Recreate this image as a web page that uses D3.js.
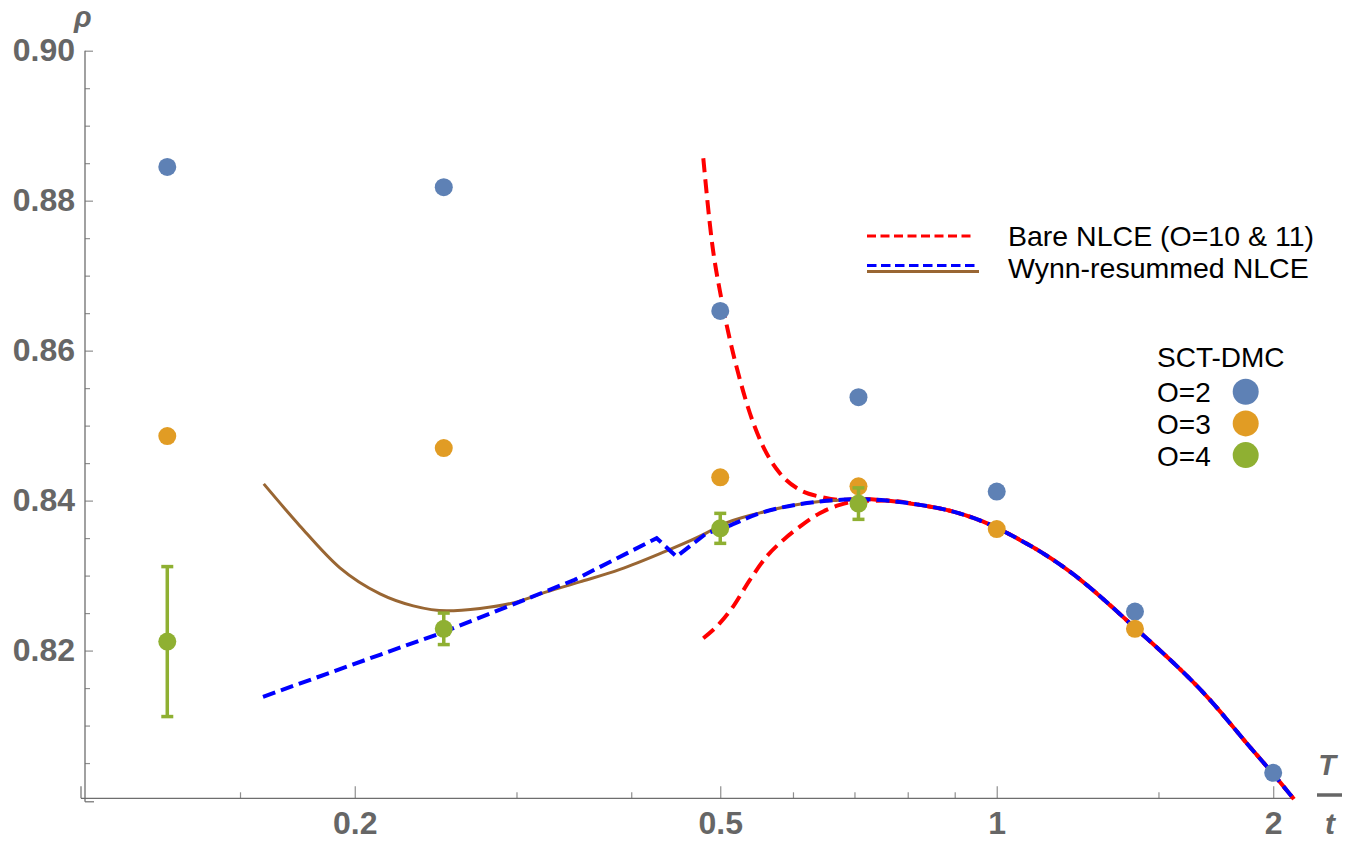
<!DOCTYPE html>
<html><head><meta charset="utf-8">
<script src="https://cdn.jsdelivr.net/npm/d3@7"></script>
<style>
html,body{margin:0;padding:0;background:#fff;}
svg{display:block;font-family:"Liberation Sans",Arial,sans-serif;}
</style></head><body>
<svg id="chart" width="1347" height="841"></svg>
<script>
// ---------------- data ----------------
const T_POINTS = [0.125, 0.25, 0.5, 0.7071, 1, 1.4142, 2];
const RHO_O2 = [0.8845, 0.8818, 0.8653, 0.8538, 0.8412, 0.8252, 0.8037];
const RHO_O3 = [0.8486, 0.8470, 0.8431, 0.8419, 0.8362, 0.8229, null];
const RHO_O4 = [0.8212, 0.8229, 0.8363, 0.8396, null, null, null];
const ERR_O4 = [0.0100, 0.0021, 0.0020, 0.0021, null, null, null];

// shared high-temperature part of all NLCE curves
const TAIL_T   = [0.7587, 0.8248, 0.8967, 0.9750, 1.0599, 1.1523, 1.2013, 1.4066, 1.7066, 1.8714, 2.0034, 2.1067];
const TAIL_RHO = [0.8400, 0.83943, 0.83853, 0.83699, 0.83476, 0.83209, 0.83053, 0.8233, 0.81343, 0.80765, 0.80343, 0.80019];

const BARE_UPPER_T   = [0.4792, 0.4894, 0.5017, 0.5123, 0.5254, 0.5386, 0.5568, 0.5806, 0.6104, 0.6417, 0.6746, 0.7098];
const BARE_UPPER_RHO = [0.88565, 0.87476, 0.86676, 0.86143, 0.85609, 0.85165, 0.8472, 0.84365, 0.84143, 0.84053, 0.8401, 0.84022];
const BARE_LOWER_T   = [0.4792, 0.4995, 0.5164, 0.5386, 0.5615, 0.5857, 0.6104, 0.6417, 0.6746, 0.7098];
const BARE_LOWER_RHO = [0.82165, 0.82365, 0.82587, 0.82943, 0.83253, 0.83476, 0.83653, 0.83832, 0.83943, 0.83995];

// Wynn dashed: low-T part (straight segments with a kink) and smooth part
const WYNN_DASH_LOW_T   = [0.1589, 0.2130, 0.2486, 0.3470, 0.4263, 0.4481, 0.4832];
const WYNN_DASH_LOW_RHO = [0.81384, 0.81944, 0.82236, 0.82943, 0.83499, 0.83253, 0.83565];
const WYNN_DASH_HIGH_T   = [0.4832, 0.4997, 0.5523, 0.6417, 0.7098];
const WYNN_DASH_HIGH_RHO = [0.83565, 0.83619, 0.83832, 0.83987, 0.84018];

const WYNN_SOLID_T   = [0.1592, 0.1743, 0.1927, 0.2131, 0.2316, 0.2518, 0.2738, 0.2976, 0.3235, 0.3517, 0.3889, 0.4299, 0.4832, 0.4995, 0.5523, 0.6417, 0.6746];
const WYNN_SOLID_RHO = [0.84223, 0.83663, 0.83103, 0.82756, 0.82596, 0.8253, 0.82562, 0.82636, 0.82783, 0.82916, 0.83083, 0.83294, 0.83569, 0.83665, 0.83836, 0.83987, 0.84005];

const X_TICKS_MAJOR = [0.2, 0.5, 1, 2];
const X_TICK_LABELS = ["0.2", "0.5", "1", "2"];
const X_TICKS_MINOR = [0.15, 0.3, 0.4, 0.6, 0.7, 0.8, 0.9, 1.5];
const Y_TICKS_MAJOR = [0.82, 0.84, 0.86, 0.88, 0.90];
const Y_TICK_LABELS = ["0.82", "0.84", "0.86", "0.88", "0.90"];
const Y_TICKS_MINOR = [0.805, 0.81, 0.815, 0.825, 0.83, 0.835, 0.845, 0.85, 0.855, 0.865, 0.87, 0.875, 0.885, 0.89, 0.895];

const LEGEND_LINES = ["Bare NLCE (O=10 & 11)", "Wynn-resummed NLCE"];
const LEGEND_POINTS_TITLE = "SCT-DMC";
const LEGEND_POINTS = ["O=2", "O=3", "O=4"];

// ---------------- setup ----------------
const C_BLUE = "#5E81B5", C_ORANGE = "#E19C24", C_GREEN = "#8FB032";
const svg = d3.select("#chart");
const x = d3.scaleLog().domain([0.1017, 2.107]).range([85, 1294]);
const y = d3.scaleLinear().domain([0.8003, 0.90]).range([798.3, 50.7]);
const AXIS_COL = "#6e6e6e", TICK_COL = "#8f8f8f", LABEL_COL = "#666666";

// axes
const gx = svg.append("g").attr("transform", `translate(0,${y.range()[0]})`);
gx.call(d3.axisBottom(x).tickValues(X_TICKS_MINOR).tickSize(-6).tickFormat(""));
gx.select(".domain").remove();
const gx2 = svg.append("g").attr("transform", `translate(0,${y.range()[0]})`);
gx2.call(d3.axisBottom(x).tickValues(X_TICKS_MAJOR).tickSize(-12).tickPadding(12.5)
  .tickFormat((d, i) => X_TICK_LABELS[i]));
gx2.select(".domain").remove();

const gy = svg.append("g").attr("transform", `translate(${x.range()[0]},0)`);
gy.call(d3.axisLeft(y).tickValues(Y_TICKS_MINOR).tickSize(-5).tickFormat(""));
gy.select(".domain").remove();
const gy2 = svg.append("g").attr("transform", `translate(${x.range()[0]},0)`);
gy2.call(d3.axisLeft(y).tickValues(Y_TICKS_MAJOR).tickSize(-8).tickPadding(10)
  .tickFormat((d, i) => Y_TICK_LABELS[i]));
gy2.select(".domain").remove();

svg.selectAll(".tick line").attr("stroke", TICK_COL).attr("stroke-width", 1.2);
svg.selectAll(".tick text").attr("fill", LABEL_COL).attr("font-size", 32)
  .attr("font-weight", "bold").attr("font-family", '"Liberation Sans", Arial, sans-serif');

// axis lines
const x0 = x.range()[0], x1 = x.range()[1], yb = y.range()[0], yt = y.range()[1];
svg.append("line").attr("x1", x0 - 4).attr("x2", x1).attr("y1", yb).attr("y2", yb)
  .attr("stroke", AXIS_COL).attr("stroke-width", 1.3);
svg.append("line").attr("x1", x0).attr("x2", x0).attr("y1", yt).attr("y2", yb + 3.5)
  .attr("stroke", AXIS_COL).attr("stroke-width", 1.3);
svg.append("path").attr("d", `M${x0 - 4},${yb - 12}V${yb}`).attr("fill", "none")
  .attr("stroke", AXIS_COL).attr("stroke-width", 1.2);
svg.append("path").attr("d", `M${x0},${yb + 3.5}H${x0 + 9}`).attr("fill", "none")
  .attr("stroke", AXIS_COL).attr("stroke-width", 1.2);

// axis titles
svg.append("text").attr("x", 74).attr("y", 27).text("ρ")
  .attr("font-size", 29).attr("font-weight", "bold").attr("font-style", "italic").attr("fill", LABEL_COL);
svg.append("text").attr("x", 1327).attr("y", 775).attr("text-anchor", "middle").text("T")
  .attr("font-size", 29).attr("font-weight", "bold").attr("font-style", "italic").attr("fill", LABEL_COL);
svg.append("line").attr("x1", 1317).attr("x2", 1342).attr("y1", 795).attr("y2", 795)
  .attr("stroke", LABEL_COL).attr("stroke-width", 3.5);
svg.append("text").attr("x", 1330).attr("y", 834).attr("text-anchor", "middle").text("t")
  .attr("font-size", 30).attr("font-weight", "bold").attr("font-style", "italic").attr("fill", LABEL_COL);

// ---------------- curves ----------------
const zip = (a, b) => a.map((v, i) => [v, b[i]]);
const tail = zip(TAIL_T, TAIL_RHO);
const line = d3.line().x(d => x(d[0])).y(d => y(d[1])).curve(d3.curveMonotoneX);
const lineStraight = d3.line().x(d => x(d[0])).y(d => y(d[1]));
const plot = svg.append("g");

plot.append("path").datum(zip(BARE_UPPER_T, BARE_UPPER_RHO).concat(tail)).attr("d", line)
  .attr("fill", "none").attr("stroke", "#FF0000").attr("stroke-width", 4).attr("stroke-dasharray", "14,7");
plot.append("path").datum(zip(BARE_LOWER_T, BARE_LOWER_RHO).concat(tail)).attr("d", line)
  .attr("fill", "none").attr("stroke", "#FF0000").attr("stroke-width", 4).attr("stroke-dasharray", "14,7");
plot.append("path").datum(zip(WYNN_SOLID_T, WYNN_SOLID_RHO)).attr("d", line)
  .attr("fill", "none").attr("stroke", "#996633").attr("stroke-width", 3);
const dLow = lineStraight(zip(WYNN_DASH_LOW_T, WYNN_DASH_LOW_RHO));
const dHigh = line(zip(WYNN_DASH_HIGH_T, WYNN_DASH_HIGH_RHO).concat(tail)).replace(/^M/, "L");
plot.append("path").attr("d", dLow + dHigh)
  .attr("fill", "none").attr("stroke", "#0000FF").attr("stroke-width", 4).attr("stroke-dasharray", "13,6");

// ---------------- points ----------------
function drawPoints(vals, col, errs) {
  const g = plot.append("g");
  T_POINTS.forEach((t, i) => {
    const v = vals[i];
    if (v == null) return;
    if (errs && errs[i] != null) {
      const ya = y(v - errs[i]), yb2 = y(v + errs[i]), cx = x(t);
      g.append("line").attr("x1", cx).attr("x2", cx).attr("y1", ya).attr("y2", yb2)
        .attr("stroke", col).attr("stroke-width", 3.5);
      [ya, yb2].forEach(yy => g.append("line").attr("x1", cx - 6).attr("x2", cx + 6)
        .attr("y1", yy).attr("y2", yy).attr("stroke", col).attr("stroke-width", 3.5));
    }
    g.append("circle").attr("cx", x(t)).attr("cy", y(v)).attr("r", 9).attr("fill", col);
  });
}
drawPoints(RHO_O2, C_BLUE);
drawPoints(RHO_O3, C_ORANGE);
drawPoints(RHO_O4, C_GREEN, ERR_O4);

// ---------------- legends ----------------
const lg = svg.append("g");
lg.append("line").attr("x1", 867).attr("x2", 973).attr("y1", 236).attr("y2", 236)
  .attr("stroke", "#FF0000").attr("stroke-width", 2.8).attr("stroke-dasharray", "9,4.5");
lg.append("line").attr("x1", 867).attr("x2", 979).attr("y1", 271.5).attr("y2", 271.5)
  .attr("stroke", "#996633").attr("stroke-width", 3);
lg.append("line").attr("x1", 867).attr("x2", 978).attr("y1", 265.5).attr("y2", 265.5)
  .attr("stroke", "#0000FF").attr("stroke-width", 3).attr("stroke-dasharray", "9.5,4.5");
LEGEND_LINES.forEach((s, i) => lg.append("text").attr("x", 1008).attr("y", 246 + i * 31.5)
  .text(s).attr("font-size", 28.5).attr("fill", "#000"));

lg.append("text").attr("x", 1157).attr("y", 367).text(LEGEND_POINTS_TITLE)
  .attr("font-size", 28).attr("fill", "#000");
const legCols = [C_BLUE, C_ORANGE, C_GREEN];
LEGEND_POINTS.forEach((s, i) => {
  lg.append("text").attr("x", 1157).attr("y", 401.5 + i * 32).text(s)
    .attr("font-size", 28).attr("fill", "#000");
  lg.append("circle").attr("cx", 1245.7).attr("cy", 391.7 + i * 31.7).attr("r", 13).attr("fill", legCols[i]);
});
</script>
</body></html>
